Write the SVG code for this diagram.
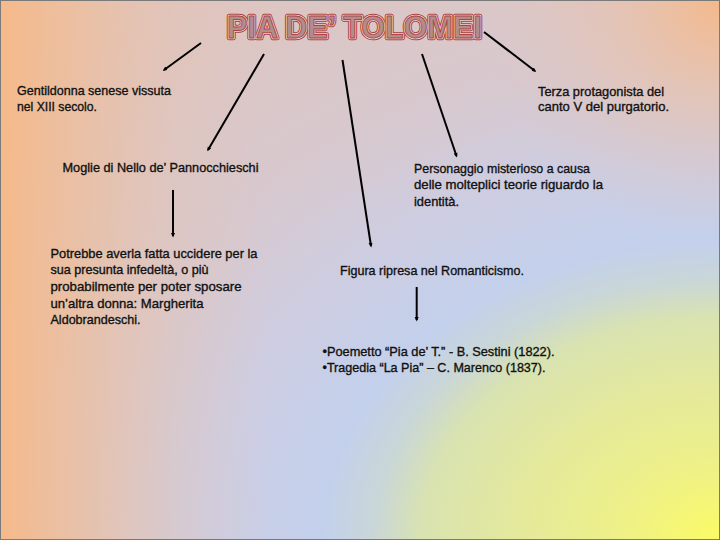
<svg xmlns="http://www.w3.org/2000/svg" width="720" height="540" viewBox="0 0 720 540">
<defs>
<radialGradient id="bg" gradientUnits="objectBoundingBox" cx="1" cy="1" r="1.42">
<stop offset="0" stop-color="#fbfb66"/>
<stop offset="0.1" stop-color="#eef088"/>
<stop offset="0.2" stop-color="#e4e99c"/>
<stop offset="0.29" stop-color="#d9e3b0"/>
<stop offset="0.34" stop-color="#c9d6d8"/>
<stop offset="0.39" stop-color="#c3d0ec"/>
<stop offset="0.5" stop-color="#cdcde2"/>
<stop offset="0.62" stop-color="#d7c9d0"/>
<stop offset="0.8" stop-color="#dcc6c4"/>
<stop offset="1" stop-color="#e2c4ba"/>
</radialGradient>
<linearGradient id="lo" gradientUnits="userSpaceOnUse" x1="0" y1="0" x2="270" y2="0">
<stop offset="0" stop-color="#f7b987" stop-opacity="0.95"/>
<stop offset="0.3" stop-color="#f2bc92" stop-opacity="0.6"/>
<stop offset="0.65" stop-color="#eac2a8" stop-opacity="0.25"/>
<stop offset="1" stop-color="#e6c4b4" stop-opacity="0"/>
</linearGradient>
<radialGradient id="tr" gradientUnits="userSpaceOnUse" cx="720" cy="0" r="240">
<stop offset="0" stop-color="#f6b888" stop-opacity="0.95"/>
<stop offset="0.4" stop-color="#eec0a0" stop-opacity="0.55"/>
<stop offset="1" stop-color="#e2c4bc" stop-opacity="0"/>
</radialGradient>
<marker id="ah" markerUnits="userSpaceOnUse" markerWidth="6" markerHeight="6" refX="3" refY="2.5" orient="auto">
<path d="M0,0.5 L4.5,2.5 L0,4.5 z" fill="#000"/>
</marker>
<style>
.t{font-family:"Liberation Sans",Arial,sans-serif;font-size:13px;fill:#111;stroke:#111;stroke-width:0.35;}
.c{stroke:#000;stroke-width:2;fill:none;marker-end:url(#ah);}
.ttl{font-family:"Liberation Sans",Arial,sans-serif;font-weight:bold;font-size:31px;}
</style>
</defs>
<rect x="0" y="0" width="720" height="540" fill="url(#bg)"/>
<rect x="0" y="0" width="720" height="540" fill="url(#lo)"/>
<rect x="0" y="0" width="720" height="540" fill="url(#tr)"/>
<rect x="0.5" y="0.5" width="719" height="539" fill="none" stroke="#7a7a7a" stroke-width="1"/>

<g id="title">
<text class="ttl" x="227" y="38" textLength="255" lengthAdjust="spacingAndGlyphs" fill="none" stroke="#a83c3c" stroke-width="4.5" stroke-linejoin="round">PIA DE’ TOLOMEI</text>
<text class="ttl" x="227" y="38" textLength="255" lengthAdjust="spacingAndGlyphs" fill="none" stroke="#f2d0cc" stroke-width="2.6" stroke-linejoin="round">PIA DE’ TOLOMEI</text>
<text class="ttl" x="227" y="38" textLength="255" lengthAdjust="spacingAndGlyphs" fill="#b08e8e" stroke="#b04444" stroke-width="0.9" stroke-linejoin="round">PIA DE’ TOLOMEI</text>
</g>

<g id="connectors">
<line class="c" x1="201" y1="43" x2="164" y2="70"/>
<line class="c" x1="264" y1="54" x2="208" y2="150"/>
<line class="c" x1="342.5" y1="60" x2="371" y2="246"/>
<line class="c" x1="422" y1="54" x2="456.5" y2="156"/>
<line class="c" x1="484" y1="32" x2="535" y2="71"/>
<line class="c" x1="173" y1="190" x2="173" y2="236"/>
<line class="c" x1="416.7" y1="287" x2="416.7" y2="320"/>
</g>

<g id="gentildonna">
<text class="t" x="17" y="95" textLength="154" lengthAdjust="spacingAndGlyphs">Gentildonna senese vissuta</text>
<text class="t" x="17" y="111" textLength="80" lengthAdjust="spacingAndGlyphs">nel XIII secolo.</text>
</g>

<g id="terza">
<text class="t" x="538" y="95.5" textLength="126" lengthAdjust="spacingAndGlyphs">Terza protagonista del</text>
<text class="t" x="538" y="111" textLength="131" lengthAdjust="spacingAndGlyphs">canto V del purgatorio.</text>
</g>

<g id="moglie">
<text class="t" x="62.5" y="172" textLength="196" lengthAdjust="spacingAndGlyphs">Moglie di Nello de’ Pannocchieschi</text>
</g>

<g id="personaggio">
<text class="t" x="414" y="172.5" textLength="176" lengthAdjust="spacingAndGlyphs">Personaggio misterioso a causa</text>
<text class="t" x="414" y="189" textLength="189" lengthAdjust="spacingAndGlyphs">delle molteplici teorie riguardo la</text>
<text class="t" x="414" y="206" textLength="45" lengthAdjust="spacingAndGlyphs">identità.</text>
</g>

<g id="potrebbe">
<text class="t" x="50.5" y="257.5" textLength="207" lengthAdjust="spacingAndGlyphs">Potrebbe averla fatta uccidere per la</text>
<text class="t" x="50.5" y="274" textLength="158" lengthAdjust="spacingAndGlyphs">sua presunta infedeltà, o più</text>
<text class="t" x="50.5" y="291" textLength="191" lengthAdjust="spacingAndGlyphs">probabilmente per poter sposare</text>
<text class="t" x="50.5" y="307.5" textLength="153" lengthAdjust="spacingAndGlyphs">un’altra donna: Margherita</text>
<text class="t" x="50.5" y="324" textLength="90" lengthAdjust="spacingAndGlyphs">Aldobrandeschi.</text>
</g>

<g id="figura">
<text class="t" x="340" y="275" textLength="184" lengthAdjust="spacingAndGlyphs">Figura ripresa nel Romanticismo.</text>
</g>

<g id="opere">
<text class="t" x="322.5" y="356" textLength="232" lengthAdjust="spacingAndGlyphs">•Poemetto “Pia de’ T.” - B. Sestini (1822).</text>
<text class="t" x="322.5" y="372" textLength="223" lengthAdjust="spacingAndGlyphs">•Tragedia “La Pia” – C. Marenco (1837).</text>
</g>
</svg>
